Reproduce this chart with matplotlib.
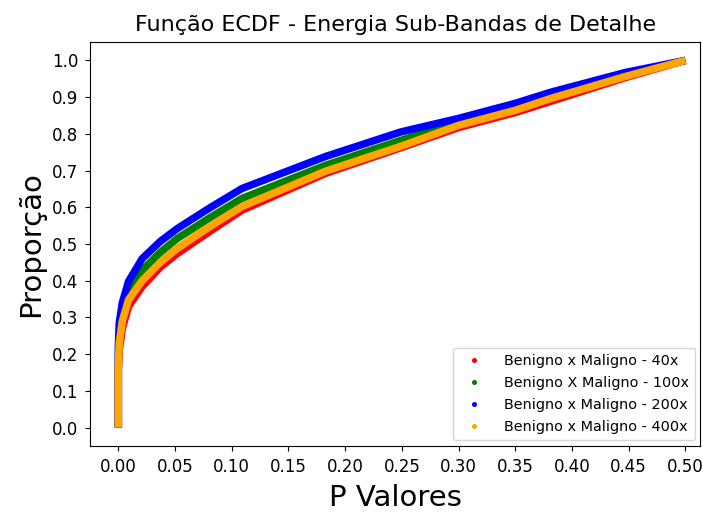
import matplotlib
matplotlib.use("Agg")
import matplotlib.pyplot as plt
from matplotlib.lines import Line2D

# P-values (x) and cumulative proportion (y) for each magnification
p_valores = [0.0, 0.0, 0.0008, 0.0035, 0.009, 0.021, 0.037, 0.052, 0.081,
             0.109, 0.1825, 0.249, 0.30, 0.35, 0.381, 0.447, 0.5]

prop_40x = [0.0, 0.16, 0.21, 0.27, 0.33, 0.384, 0.437, 0.474, 0.535,
            0.592, 0.692, 0.762, 0.817, 0.858, 0.888, 0.953, 1.0]
prop_100x = [0.0, 0.19, 0.25, 0.31, 0.366, 0.428, 0.477, 0.515, 0.572,
             0.624, 0.714, 0.782, 0.831, 0.875, 0.905, 0.962, 1.0]
prop_200x = [0.0, 0.22, 0.285, 0.34, 0.398, 0.46, 0.507, 0.542, 0.599,
             0.651, 0.738, 0.805, 0.842, 0.883, 0.913, 0.967, 1.0]
prop_400x = [0.0, 0.17, 0.23, 0.29, 0.348, 0.40, 0.45, 0.488, 0.548,
             0.602, 0.698, 0.766, 0.823, 0.864, 0.896, 0.956, 1.0]

rotulos = ["Benigno x Maligno - 40x", "Benigno X Maligno - 100x",
           "Benigno x Maligno - 200x", "Benigno x Maligno - 400x"]
cores = ["red", "green", "blue", "orange"]
series = [prop_40x, prop_100x, prop_200x, prop_400x]

x_ticks = [0.00, 0.05, 0.10, 0.15, 0.20, 0.25, 0.30, 0.35, 0.40, 0.45, 0.50]
y_ticks = [0.0, 0.1, 0.2, 0.3, 0.4, 0.5, 0.6, 0.7, 0.8, 0.9, 1.0]

fig = plt.figure(figsize=(7.03, 5.12), dpi=100)
ax = fig.add_axes([0.128, 0.129, 0.868, 0.789])

for ys, cor in zip(series, cores):
    ax.plot(p_valores, ys, color=cor, lw=5.4, solid_capstyle="butt",
            solid_joinstyle="round")

handles = [Line2D([], [], linestyle="none", marker="o", markersize=2.6,
                  color=c) for c in cores]
ax.legend(handles, rotulos, loc="lower right", fontsize=10.4,
          handletextpad=1.1, borderpad=0.45, labelspacing=0.55,
          bbox_to_anchor=(1.004, -0.004))

ax.set_xlim(-0.025, 0.513)
ax.set_ylim(-0.05, 1.05)
ax.set_xticks(x_ticks)
ax.set_xticklabels([f"{v:.2f}" for v in x_ticks])
ax.set_yticks(y_ticks)
ax.set_yticklabels([f"{v:.1f}" for v in y_ticks])
ax.tick_params(labelsize=12, pad=5)

ax.set_title("Função ECDF - Energia Sub-Bandas de Detalhe", fontsize=16, pad=8)
ax.set_xlabel("P Valores", fontsize=21, labelpad=6)
ax.set_ylabel("Proporção", fontsize=21, labelpad=5)

fig.savefig("out.png", dpi=100)
